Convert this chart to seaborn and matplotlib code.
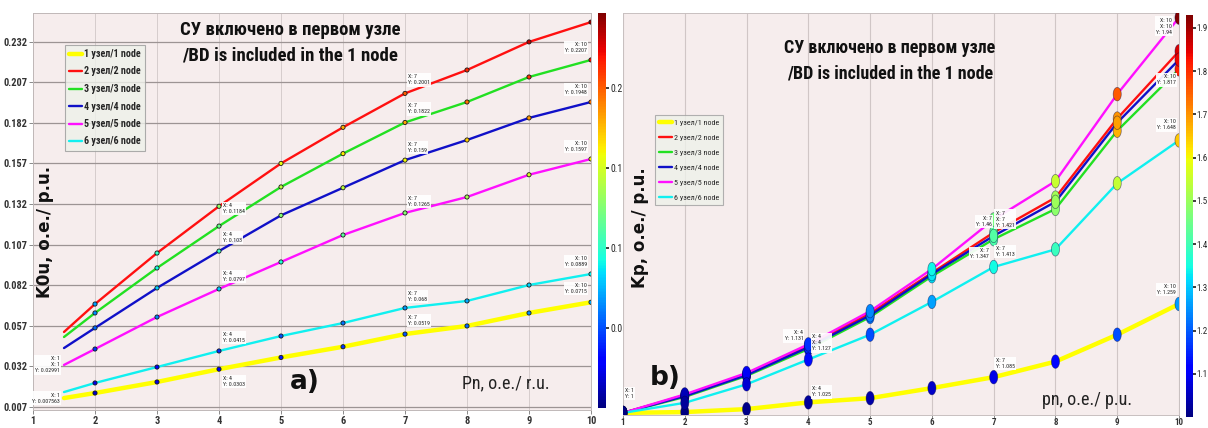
import numpy as np
import pandas as pd
import matplotlib
matplotlib.use("Agg")
import matplotlib.pyplot as plt
import seaborn as sns
from matplotlib import font_manager as fm
from matplotlib.path import Path
from matplotlib.markers import MarkerStyle
from matplotlib.colors import Normalize
from matplotlib.cm import ScalarMappable

# ---------------- data ----------------
node_labels = ["1 узел/1 node", "2 узел/2 node", "3 узел/3 node",
               "4 узел/4 node", "5 узел/5 node", "6 узел/6 node"]

# panel a) K0u vs Pn
a_x = [1.5, 2, 3, 4, 5, 6, 7, 8, 9, 10]
a_node1 = [0.0125, 0.0156, 0.0224, 0.0303, 0.0375, 0.0441, 0.0519, 0.0569, 0.0649, 0.0715]
a_node2 = [0.0532, 0.0704, 0.1018, 0.1306, 0.1570, 0.1792, 0.2001, 0.2145, 0.2318, 0.2440]
a_node3 = [0.0501, 0.0649, 0.0926, 0.1184, 0.1425, 0.1630, 0.1822, 0.1948, 0.2102, 0.2207]
a_node4 = [0.0433, 0.0557, 0.0803, 0.1030, 0.1250, 0.1420, 0.1590, 0.1714, 0.1850, 0.1948]
a_node5 = [0.0329, 0.0427, 0.0624, 0.0797, 0.0963, 0.1129, 0.1265, 0.1363, 0.1500, 0.1597]
a_node6 = [0.0162, 0.0218, 0.0316, 0.0415, 0.0507, 0.0587, 0.0680, 0.0723, 0.0821, 0.0889]

# panel b) Kp vs pn
b_x = [1, 2, 3, 4, 5, 6, 7, 8, 9, 10]
b_node1 = [1.000, 1.002, 1.009, 1.025, 1.035, 1.059, 1.085, 1.122, 1.186, 1.259]
b_node2 = [1.000, 1.042, 1.092, 1.160, 1.237, 1.333, 1.429, 1.512, 1.700, 1.860]
b_node3 = [1.000, 1.038, 1.088, 1.152, 1.228, 1.325, 1.413, 1.485, 1.671, 1.817]
b_node4 = [1.000, 1.040, 1.090, 1.156, 1.232, 1.330, 1.421, 1.502, 1.690, 1.840]
b_node5 = [1.000, 1.044, 1.095, 1.163, 1.242, 1.342, 1.460, 1.551, 1.758, 1.940]
b_node6 = [1.000, 1.024, 1.068, 1.127, 1.186, 1.264, 1.347, 1.389, 1.546, 1.648]

a_yticks = [0.007, 0.032, 0.057, 0.082, 0.107, 0.132, 0.157, 0.182, 0.207, 0.232]
x_ticks = [1, 2, 3, 4, 5, 6, 7, 8, 9, 10]
a_cbar_ticks = [0.05, 0.1, 0.15, 0.2]
b_cbar_ticks = [1.1, 1.2, 1.3, 1.4, 1.5, 1.6, 1.7, 1.8, 1.9]

title_ru = "СУ включено в первом узле"
title_en = "/BD is included in the 1 node"

a_series = [a_node1, a_node2, a_node3, a_node4, a_node5, a_node6]
b_series = [b_node1, b_node2, b_node3, b_node4, b_node5, b_node6]

df_a = pd.concat([pd.DataFrame({"x": a_x, "y": s, "node": lab})
                  for s, lab in zip(a_series, node_labels)], ignore_index=True)
df_b = pd.concat([pd.DataFrame({"x": b_x, "y": s, "node": lab})
                  for s, lab in zip(b_series, node_labels)], ignore_index=True)

# ---------------- style ----------------
sns.set_theme(style="white")
avail = {f.name for f in fm.fontManager.ttflist}
narrow = next((f for f in ["Liberation Sans Narrow", "DejaVu Sans Condensed",
                           "Roboto Condensed", "Liberation Sans"] if f in avail), "DejaVu Sans")
plt.rcParams["font.family"] = [narrow, "DejaVu Sans"]

jet = matplotlib.colormaps["jet"]
colors = ["#ffff00", "#ff1010", "#22e022", "#1010c8", "#ff10ff", "#10f0f0"]
lwidths = [3.2, 1.7, 1.7, 1.7, 1.7, 1.7]
face = "#f6eded"

W, H = 1208, 428
fig = plt.figure(figsize=(W / 100, H / 100), dpi=100)
fig.patch.set_facecolor("white")


def fr(x0, y0, x1, y1):
    """pixel box -> figure fraction rect"""
    return [x0 / W, 1 - y1 / H, (x1 - x0) / W, (y1 - y0) / H]


ax_a = fig.add_axes(fr(33, 13, 591, 410))
cax_a = fig.add_axes(fr(598, 13, 606, 408))
ax_b = fig.add_axes(fr(623, 13, 1179, 415))
cax_b = fig.add_axes(fr(1186, 15, 1193, 417))

# ---------- panel a ----------
ax_a.set_facecolor(face)
for i, lab in enumerate(node_labels):
    sns.lineplot(data=df_a[df_a.node == lab], x="x", y="y", color=colors[i],
                 lw=lwidths[i], ax=ax_a, label=lab, sort=False, estimator=None,
                 legend=False, zorder=3)
norm_a = Normalize(0.0, 0.247)
sns.scatterplot(data=df_a[df_a.x >= 2], x="x", y="y", hue="y", palette=jet,
                hue_norm=norm_a, s=9, edgecolor="k", linewidth=0.6, legend=False,
                ax=ax_a, zorder=4)
ax_a.set_xlim(1, 10)
ax_a.set_ylim(0.00515, 0.2496)
ax_a.set_xticks(x_ticks)
ax_a.set_yticks(a_yticks)
ax_a.set_yticklabels([f"{v:.3f}" for v in a_yticks])
ax_a.grid(True, axis="y", color="#9c9494", lw=0.9)
ax_a.grid(True, axis="x", color="#d6cccc", lw=0.7)
ax_a.set_axisbelow(True)
ax_a.tick_params(axis="both", length=3, width=0.6, color="#777", pad=1,
                 labelsize=7.5, direction="out", bottom=True, left=True)
for lbl in ax_a.get_xticklabels() + ax_a.get_yticklabels():
    lbl.set_fontweight("bold")
    lbl.set_color("#333")
for sp in ax_a.spines.values():
    sp.set_color("#c0b8b8")
    sp.set_linewidth(0.7)
ax_a.set_xlabel("")
ax_a.set_ylabel("")

handles_a = ax_a.get_lines()[:6]
leg_a = ax_a.legend(handles_a, node_labels, loc="upper left",
                    bbox_to_anchor=((65 - 33) / 558, 1 - (45 - 13) / 397),
                    fontsize=7.2, handlelength=1.3, handletextpad=0.2,
                    labelspacing=0.75, borderpad=0.4, frameon=True, fancybox=False,
                    borderaxespad=0)
leg_a.get_frame().set_facecolor("#eef1ea")
leg_a.get_frame().set_edgecolor("#9a9a9a")
leg_a.get_frame().set_linewidth(0.8)
for t in leg_a.get_texts():
    t.set_fontweight("bold")

# data tips panel a: (series, point index, dx px, dy px, ha, va, text override)
a_tips = [
    (1, 6, 3, 8, "left", "bottom", None),
    (2, 3, 4, 12, "left", "bottom", None),
    (2, 6, 3, 8, "left", "bottom", None),
    (3, 3, 4, 8, "left", "bottom", None),
    (3, 6, 3, 7, "left", "bottom", None),
    (4, 3, 4, 7, "left", "bottom", None),
    (4, 6, 3, 6, "left", "bottom", None),
    (5, 3, 4, 8, "left", "bottom", None),
    (5, 6, 3, 6, "left", "bottom", None),
    (0, 3, 4, -7, "left", "top", None),
    (0, 6, 3, 8, "left", "bottom", None),
    (2, 9, -4, 7, "right", "bottom", None),
    (3, 9, -4, 7, "right", "bottom", None),
    (4, 9, -4, 7, "right", "bottom", None),
    (5, 9, -4, 7, "right", "bottom", None),
    (0, 9, -4, 8, "right", "bottom", None),
    (4, 0, -4, 0, "right", "center", "X: 1\nX: 1\nY: 0.02991"),
    (0, 0, -4, 0, "right", "center", "X: 1\nY: 0.007563"),
]


def add_tips(ax, xs, series, tips, fmt):
    for si, pi, dx, dy, ha, va, txt in tips:
        xv, yv = xs[pi], series[si][pi]
        if txt is None:
            txt = f"X: {xv:g}\nY: {yv:{fmt}}"
        ax.annotate(txt, xy=(xv, yv), xytext=(dx * 0.72, dy * 0.72),
                    textcoords="offset points", ha=ha, va=va, fontsize=4.2,
                    color="#222", linespacing=1.25, zorder=6,
                    bbox=dict(boxstyle="square,pad=0.2", fc="white", ec="none", alpha=0.92))


add_tips(ax_a, a_x, a_series, a_tips, ".4g")

fig.text(290 / W, 1 - 30 / H, title_ru, ha="center", va="center",
         fontsize=13.5, fontweight="bold", color="#111")
fig.text(290 / W, 1 - 55 / H, title_en, ha="center", va="center",
         fontsize=13.5, fontweight="bold", color="#111")
fig.text(305 / W, 1 - 382 / H, "a)", ha="center", va="center", fontsize=19,
         fontweight="bold", family="DejaVu Sans", color="#111")
fig.text(506 / W, 1 - 383 / H, "Pn, o.e./ r.u.", ha="center", va="center",
         fontsize=13, color="#222")
fig.text(45 / W, 1 - 232 / H, "K0u, o.e./ p.u.", ha="center", va="center",
         rotation=90, fontsize=12, fontweight="bold", family="DejaVu Sans", color="#111")

# colorbar a
cb_a = fig.colorbar(ScalarMappable(norm=norm_a, cmap=jet), cax=cax_a)
cb_a.set_ticks(a_cbar_ticks)
cb_a.set_ticklabels([f"{v:g}" for v in a_cbar_ticks])
cb_a.outline.set_visible(False)
cax_a.tick_params(labelsize=7, length=2, pad=1)

# ---------- panel b ----------
ax_b.set_facecolor(face)
for i, lab in enumerate(node_labels):
    sns.lineplot(data=df_b[df_b.node == lab], x="x", y="y", color=colors[i],
                 lw=lwidths[i], ax=ax_b, label=lab, sort=False, estimator=None,
                 legend=False, zorder=3)
norm_b = Normalize(1.0, 1.93)
t = np.linspace(0, 2 * np.pi, 41)
ell = MarkerStyle(Path(np.column_stack([0.6 * np.cos(t), np.sin(t)])))
sns.scatterplot(data=df_b, x="x", y="y", hue="y", palette=jet, hue_norm=norm_b,
                s=95, marker=ell, edgecolor=(0, 0, 0.25, 0.5), linewidth=0.5,
                legend=False, ax=ax_b, zorder=4)
ax_b.set_xlim(1, 10)
ax_b.set_ylim(0.995, 1.951)
ax_b.set_xticks(x_ticks)
ax_b.set_yticks([])
ax_b.grid(True, axis="x", color="#d0c6c6", lw=0.8)
ax_b.set_axisbelow(True)
ax_b.tick_params(axis="x", length=2, width=0.6, color="#777", pad=0.5, labelsize=6.5,
                 bottom=True)
for lbl in ax_b.get_xticklabels():
    lbl.set_fontweight("bold")
    lbl.set_color("#333")
for sp in ax_b.spines.values():
    sp.set_color("#c8c0c0")
    sp.set_linewidth(0.7)
ax_b.set_xlabel("")
ax_b.set_ylabel("")

handles_b = ax_b.get_lines()[:6]
leg_b = ax_b.legend(handles_b, node_labels, loc="upper left",
                    bbox_to_anchor=((655 - 623) / 556, 1 - (115 - 13) / 402),
                    fontsize=5.8, handlelength=1.6, handletextpad=0.2,
                    labelspacing=1.05, borderpad=0.5, frameon=True, fancybox=False,
                    borderaxespad=0)
leg_b.get_frame().set_facecolor("#eef1ea")
leg_b.get_frame().set_edgecolor("#a0a0a0")
leg_b.get_frame().set_linewidth(0.8)

b_tips = [
    (5, 0, 2, 14, "left", "bottom", None),
    (0, 3, 4, 5, "left", "bottom", None),
    (4, 3, -5, 3, "right", "bottom", "X: 4\nY: 1.131"),
    (5, 3, 4, 8, "left", "bottom", "X: 4\nX: 4\nY: 1.127"),
    (0, 6, 2, 8, "left", "bottom", None),
    (0, 9, -3, 9, "right", "bottom", None),
    (5, 9, -3, 10, "right", "bottom", None),
    (2, 9, -3, -5, "right", "top", None),
    (4, 9, -7, 0, "right", "top", "X: 10\nX: 10\nY: 1.94"),
    (4, 6, -2, -2, "right", "center", None),
    (1, 6, 2, 5, "left", "bottom", "X: 7\nX: 7\nY: 1.421"),
    (2, 6, 2, -7, "left", "top", None),
    (5, 6, -5, 8, "right", "bottom", None),
]
add_tips(ax_b, b_x, b_series, b_tips, ".4g")

fig.text(890 / W, 1 - 48 / H, title_ru, ha="center", va="center",
         fontsize=13, fontweight="bold", color="#111")
fig.text(890 / W, 1 - 73 / H, title_en, ha="center", va="center",
         fontsize=13, fontweight="bold", color="#111")
fig.text(665 / W, 1 - 378 / H, "b)", ha="center", va="center", fontsize=19,
         fontweight="bold", family="DejaVu Sans", color="#111")
fig.text(1087 / W, 1 - 400 / H, "pn, o.e./ p.u.", ha="center", va="center",
         fontsize=13, color="#222")
fig.text(640 / W, 1 - 228 / H, "Kp, o.e./ p.u.", ha="center", va="center",
         rotation=90, fontsize=12, fontweight="bold", family="DejaVu Sans", color="#111")

cb_b = fig.colorbar(ScalarMappable(norm=norm_b, cmap=jet), cax=cax_b)
cb_b.set_ticks(b_cbar_ticks)
cb_b.set_ticklabels([f"{v:g}" for v in b_cbar_ticks])
cb_b.outline.set_visible(False)
cax_b.tick_params(labelsize=6.5, length=2, pad=0.5)

fig.savefig("out.png", dpi=100, facecolor="white")
